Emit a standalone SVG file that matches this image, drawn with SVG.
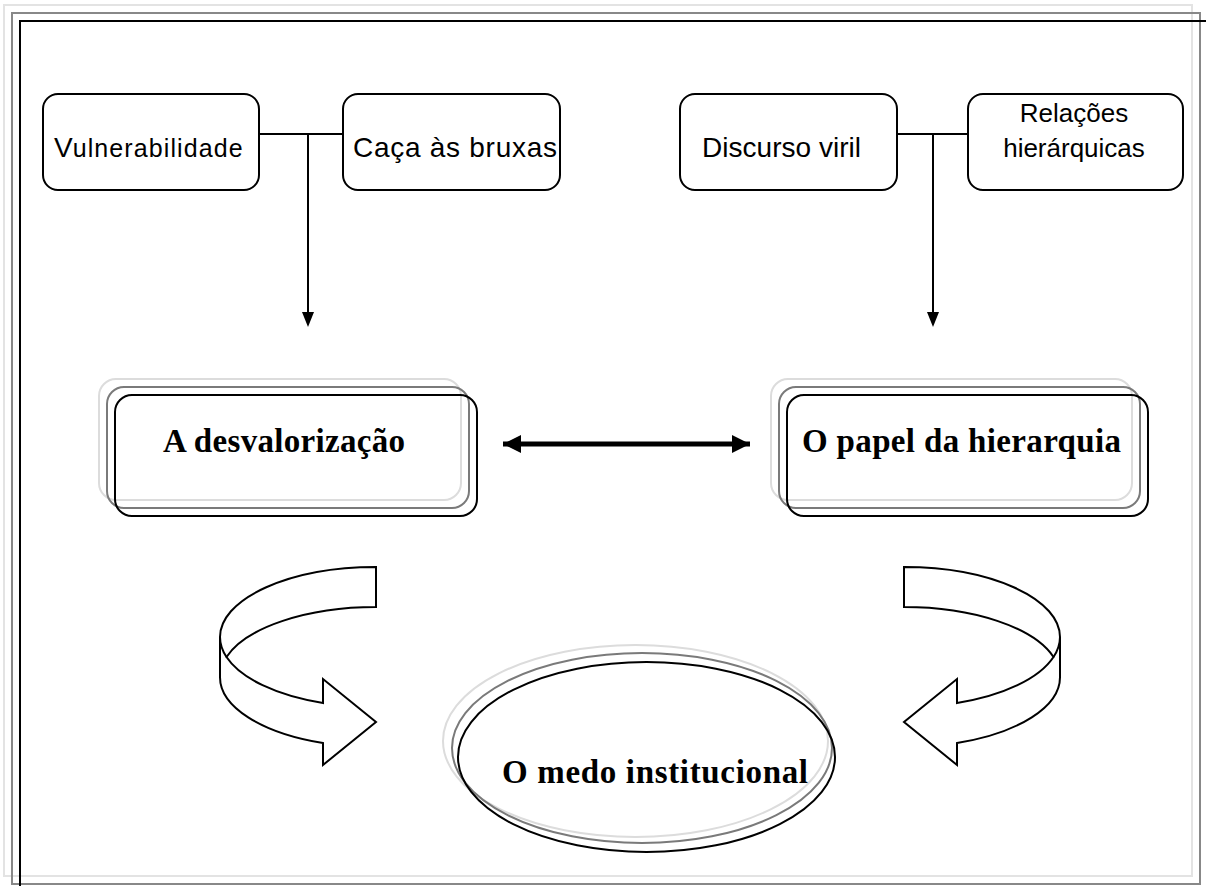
<svg xmlns="http://www.w3.org/2000/svg" width="1206" height="886" viewBox="0 0 1206 886">
<style>
.box{fill:#fff;stroke:#000;stroke-width:2}
.sans{font-family:"Liberation Sans",Arial,sans-serif;fill:#000}
.serif{font-family:"Liberation Serif","Times New Roman",serif;font-weight:bold;fill:#000;font-size:33px}
.lt{fill:none;stroke:#dcdcdc;stroke-width:2}
.md{fill:none;stroke:#7a7a7a;stroke-width:2}
.dk{fill:none;stroke:#000;stroke-width:2}
.conn{fill:none;stroke:#000;stroke-width:2}
.curved{fill:#fff;stroke:#000;stroke-width:2;stroke-linejoin:miter}
</style>
<defs>
<marker id="thick" viewBox="0 0 10 10" refX="10" refY="5" markerWidth="3.6" markerHeight="3.6" markerUnits="strokeWidth" orient="auto-start-reverse">
<path d="M0,0 L10,5 L0,10 z" fill="#000"/>
</marker>
</defs>
<rect width="1206" height="886" fill="#fff"/>
<g id="frame">
<rect x="4" y="5" width="1188" height="871" fill="none" stroke="#e3e3e3" stroke-width="2"/>
<rect x="12" y="13" width="1188" height="871" fill="none" stroke="#888" stroke-width="2"/>
<path d="M20 886 V21 H1206" fill="none" stroke="#000" stroke-width="2"/>
</g>
<g id="connectors">
<path class="conn" d="M259 134 H343"/>
<path class="conn" d="M308 134 V314"/>
<path d="M302 312 L314 312 L308 327 Z" fill="#000"/>
<path class="conn" d="M897 134 H968"/>
<path class="conn" d="M933 134 V314"/>
<path d="M927 312 L939 312 L933 327 Z" fill="#000"/>
<path d="M503 444 H750" fill="none" stroke="#000" stroke-width="5" marker-start="url(#thick)" marker-end="url(#thick)"/>
</g>
<g id="vulnerabilidade">
<rect class="box" x="43" y="94" width="216" height="96" rx="15"/>
<text class="sans" x="54" y="157"><tspan font-size="28">V</tspan><tspan font-size="25" textLength="170">ulnerabilidade</tspan></text>
</g>
<g id="caca">
<rect class="box" x="343" y="94" width="217" height="96" rx="15"/>
<text class="sans" x="353" y="157" font-size="28" textLength="204">Caça às bruxas</text>
</g>
<g id="discurso">
<rect class="box" x="680" y="94" width="217" height="96" rx="15"/>
<text class="sans" x="702" y="157" font-size="28" textLength="159">Discurso viril</text>
</g>
<g id="relacoes">
<rect class="box" x="968" y="94" width="215" height="96" rx="15"/>
<text class="sans" font-size="26" text-anchor="middle"><tspan x="1074" y="122">Relações</tspan><tspan x="1074" y="157">hierárquicas</tspan></text>
</g>
<g id="desvalorizacao">
<rect class="lt" x="99" y="379" width="362" height="121" rx="17"/>
<rect class="md" x="107" y="387" width="362" height="121" rx="17"/>
<rect class="dk" x="115" y="395" width="362" height="121" rx="17"/>
<text class="serif" x="163" y="452" textLength="242">A desvalorização</text>
</g>
<g id="hierarquia">
<rect class="lt" x="771" y="379" width="361" height="121" rx="17"/>
<rect class="md" x="779" y="387" width="361" height="121" rx="17"/>
<rect class="dk" x="787" y="395" width="361" height="121" rx="17"/>
<text class="serif" x="802" y="452" textLength="319">O papel da hierarquia</text>
</g>
<g id="curved-left">
<path class="curved" d="M376 567 A156 70 0 0 0 220 637 L220 677 A156 70 0 0 0 323 743 L323 765 L376 722 L323 679 L323 703 A156 70 0 0 1 226.5 657 A156 70 0 0 1 376 607 Z"/>
<path class="conn" d="M220 637 A156 70 0 0 0 226.5 657"/>
</g>
<g id="curved-right" transform="translate(1280 0) scale(-1 1)">
<path class="curved" d="M376 567 A156 70 0 0 0 220 637 L220 677 A156 70 0 0 0 323 743 L323 765 L376 722 L323 679 L323 703 A156 70 0 0 1 226.5 657 A156 70 0 0 1 376 607 Z"/>
<path class="conn" d="M220 637 A156 70 0 0 0 226.5 657"/>
</g>
<g id="medo">
<ellipse class="lt" cx="635.5" cy="741" rx="192.5" ry="96"/>
<ellipse class="md" cx="642" cy="748" rx="190" ry="95"/>
<ellipse class="dk" cx="646.5" cy="757" rx="188.5" ry="95"/>
<text class="serif" x="502" y="783" textLength="306">O medo institucional</text>
</g>
</svg>
